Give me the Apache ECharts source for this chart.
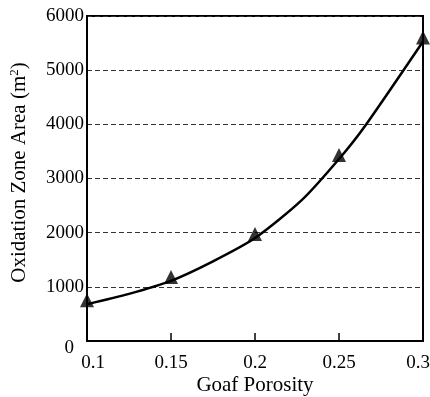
<!DOCTYPE html>
<html>
<head>
<meta charset="utf-8">
<script src="https://cdn.jsdelivr.net/npm/echarts@6/dist/echarts.min.js"></script>
<style>html,body{margin:0;padding:0;background:#fff}#c{width:430px;height:397px}</style>
</head>
<body>
<div id="c"></div>
<script>
// Marker points (Goaf porosity vs oxidation zone area, m^2)
var porosity = [0.1, 0.15, 0.2, 0.25, 0.3];
var area = [680, 1110, 1900, 3360, 5530];
// Points along the drawn curve
var curvePorosity = [0.1, 0.125, 0.15, 0.175, 0.2, 0.2278, 0.25, 0.2655, 0.3];
var curveArea = [680, 870, 1110, 1470, 1900, 2600, 3360, 3970, 5530];
var yTicks = [0, 1000, 2000, 3000, 4000, 5000, 6000];
var xTicks = [0.1, 0.15, 0.2, 0.25, 0.3];

var font = 'Liberation Serif';
var tickSize = 19, nameSize = 21;
var chart = echarts.init(document.getElementById('c'), null, {renderer: 'canvas'});
chart.setOption({
  animation: false,
  grid: {left: 87, right: 7, top: 16, bottom: 56, containLabel: false, outerBoundsMode: 'none',
    show: true, borderColor: '#000', borderWidth: 2, backgroundColor: 'transparent'},
  xAxis: {
    type: 'value', min: xTicks[0], max: xTicks[xTicks.length - 1], interval: 0.05,
    name: 'Goaf Porosity', nameLocation: 'middle', nameGap: 34, nameMoveOverlap: false,
    nameTextStyle: {fontFamily: font, fontSize: nameSize, color: '#000'},
    axisLine: {show: true, lineStyle: {color: '#000', width: 2}},
    axisTick: {show: true, inside: true, length: 8, lineStyle: {color: '#000', width: 1.5}},
    splitLine: {show: false},
    axisLabel: {
      fontFamily: font, fontSize: tickSize, color: '#000', margin: 13,
      formatter: function (v) {
        var s = String(+v.toFixed(2));
        if (Math.abs(v - 0.1) < 1e-9) return '{l|' + s + '}';
        if (Math.abs(v - 0.3) < 1e-9) return '{r|' + s + '}';
        return s;
      },
      rich: {
        l: {fontFamily: font, fontSize: tickSize, color: '#000', padding: [0, 0, 0, 12]},
        r: {fontFamily: font, fontSize: tickSize, color: '#000', padding: [0, 10, 0, 0]}
      }
    }
  },
  yAxis: {
    type: 'value', min: yTicks[0], max: yTicks[yTicks.length - 1], interval: 1000,
    name: 'Oxidation Zone Area (m{sup|2})', nameLocation: 'middle', nameGap: 57, nameRotate: 90, nameMoveOverlap: false,
    nameTextStyle: {fontFamily: font, fontSize: nameSize, color: '#000', padding: [0, 0, 0, 12],
      rich: {sup: {fontFamily: font, fontSize: 13, color: '#000', verticalAlign: 'top', padding: [0, 0, 9, 0]}}},
    axisLine: {show: true, lineStyle: {color: '#000', width: 2}},
    axisTick: {show: false},
    splitLine: {show: true, lineStyle: {color: '#333', width: 1, type: [5, 3]}},
    axisLabel: {
      fontFamily: font, fontSize: tickSize, color: '#000', margin: 3,
      formatter: function (v) { return v === 0 ? '{z|0}' : String(v); },
      rich: {z: {fontFamily: font, fontSize: tickSize, color: '#000', padding: [14, 10, 0, 0]}}
    }
  },
  series: [
    {
      type: 'line', data: curvePorosity.map(function (x, i) { return [x, curveArea[i]]; }),
      smooth: 0.25, showSymbol: false, symbol: 'none',
      lineStyle: {color: '#000', width: 2.5}
    },
    {
      type: 'scatter', data: porosity.map(function (x, i) { return [x, area[i]]; }),
      symbol: 'triangle', symbolSize: [14, 14], symbolOffset: [0, -4],
      itemStyle: {color: '#000'}, z: 5
    }
  ]
});
</script>
</body>
</html>
